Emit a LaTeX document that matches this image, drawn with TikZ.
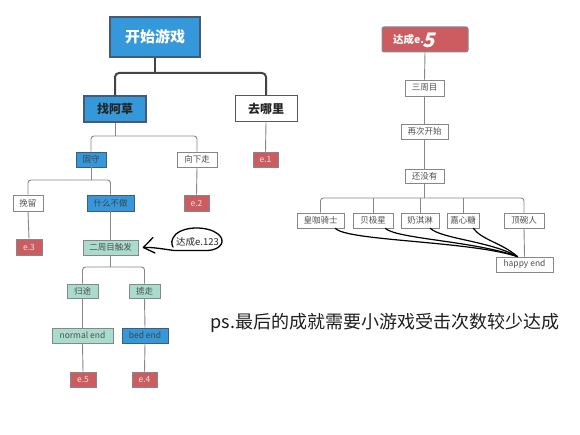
\documentclass[tikz,border=0pt]{standalone}
\usepackage{fontspec}
\setmainfont{Noto Sans CJK SC}
\usetikzlibrary{calc}
\definecolor{cblue}{RGB}{52,152,219}
\definecolor{cred}{RGB}{205,92,97}
\definecolor{cmint}{RGB}{170,220,206}
\definecolor{cline}{RGB}{135,135,135}
\definecolor{ctext}{RGB}{80,80,80}
\definecolor{cdark}{RGB}{68,68,68}
\definecolor{cbord}{RGB}{70,90,118}
\begin{document}
\begin{tikzpicture}[x=1pt,y=-1pt,
  box/.style={draw=cline,line width=0.8pt,inner sep=0pt,text=ctext,font=\fontsize{8.5}{9}\selectfont},
  wbox/.style={box,fill=white},
  bbox/.style={box,fill=cblue,draw=cbord,text=cdark},
  rbox/.style={box,fill=cred,draw=cline,text=white!90!black},
  mbox/.style={box,fill=cmint,draw=cline,text=ctext},
  conn/.style={draw=cline,line width=0.9pt,rounded corners=3pt},
  thick conn/.style={draw=cdark,line width=2pt,rounded corners=4pt},
  hand/.style={draw=black,line width=1.3pt,line cap=round,line join=round}]
\useasboundingbox[fill=white] (0,0) rectangle (580,435);

% ---- left tree ----
\node[box,fill=cblue,draw=cbord,line width=1.5pt,text=white,font=\fontsize{15}{15}\bfseries,minimum width=90pt,minimum height=40pt] (start) at (155,37) {开始游戏};
\node[box,fill=cblue,draw=cbord,line width=1.3pt,text=black!85,font=\fontsize{12}{12}\bfseries,minimum width=62pt,minimum height=26pt] (zhao) at (115,109) {找阿草};
\node[box,fill=white,draw=black!65,line width=1pt,text=black!85,font=\fontsize{12}{12}\bfseries,minimum width=62pt,minimum height=26pt] (qu) at (266,109) {去哪里};

\node[bbox,minimum width=30pt,minimum height=15pt] (gushou) at (91,159.5) {固守};
\node[wbox,minimum width=40pt,minimum height=15pt] (xiang) at (197,159.5) {向下走};
\node[rbox,minimum width=25pt,minimum height=15pt] (e1) at (265.5,159.5) {e.1};

\node[wbox,minimum width=30pt,minimum height=16pt] (wanliu) at (28,203) {挽留};
\node[bbox,minimum width=47pt,minimum height=16pt] (shenme) at (110.5,203) {什么不做};
\node[rbox,minimum width=25pt,minimum height=16pt] (e2) at (196.5,203) {e.2};

\node[rbox,minimum width=26pt,minimum height=16pt] (e3) at (29,247) {e.3};
\node[mbox,minimum width=55pt,minimum height=15pt] (erzhou) at (110.5,247.5) {二周目触发};

\node[mbox,minimum width=31pt,minimum height=14pt] (guitu) at (82.5,291) {归途};
\node[mbox,minimum width=31pt,minimum height=14pt] (luzou) at (144.5,291) {掳走};
\node[mbox,minimum width=61pt,minimum height=15pt] (normal) at (82.5,335.5) {normal end};
\node[bbox,minimum width=46pt,minimum height=15pt] (bed) at (145,335.5) {bed end};
\node[rbox,minimum width=26pt,minimum height=15pt] (e5) at (83,379.5) {e.5};
\node[rbox,minimum width=25pt,minimum height=15pt] (e4) at (144.5,379.5) {e.4};

\coordinate (b0) at (155,73);
\draw[thick conn] (start.south) -- (b0);
\draw[thick conn] (zhao.north) |- (b0) -| (qu.north);
\coordinate (b1) at (115,136);
\draw[conn] (zhao.south) -- (b1);
\draw[conn] (gushou.north) |- (b1) -| (xiang.north);
\draw[conn] (qu.south) -- (e1.north);
\draw[conn] (xiang.south) -- (e2.north);
\coordinate (b2) at (91,180);
\draw[conn] (gushou.south) -- (b2);
\draw[conn] (wanliu.north) |- (b2) -| (shenme.north);
\draw[conn] (wanliu.south) -- (e3.north);
\draw[conn] (shenme.south) -- (erzhou.north);
\coordinate (b3) at (110.5,267);
\draw[conn] (erzhou.south) -- (b3);
\draw[conn] (guitu.north) |- (b3) -| (luzou.north);
\draw[conn] (guitu.south) -- (normal.north);
\draw[conn] (normal.south) -- (e5.north);
\draw[conn] (luzou.south) -- (bed.north);
\draw[conn] (bed.south) -- (e4.north);

% hand-drawn note
\node[inner sep=0pt,text=black!85,font=\fontsize{9.5}{10}\selectfont] (note) at (197.5,242) {达成e.123};
\coordinate (tip) at ([xshift=5pt]erzhou.east);
\draw[hand] (tip) .. controls (152,247) and (163,249) .. (174,250.5) -- (207,250.5)
  .. controls (222,250) and (226,240) .. (218,234) .. controls (208,226) and (185,226) .. (176,234)
  .. controls (171,239) and (171,244) .. (173,247);
\draw[hand] (153,237.5) -- (tip) -- (155,253);

% ---- right tree ----
\node[box,fill=cred,draw=cbord!70,line width=1pt,rounded corners=2pt,minimum width=86pt,minimum height=25pt] (dacheng) at (425,39.5) {};
\node[inner sep=0pt,anchor=west,text=white,font=\fontsize{10.5}{11}\bfseries] (dctext) at (393,40) {达成e.};
\node[inner sep=0pt,anchor=west,text=white,xslant=0.25,font=\fontsize{20}{20}\bfseries] (dcfive) at (dctext.east) {5};

\node[wbox,minimum width=39pt,minimum height=16pt] (sanzhou) at (424.5,88) {三周目};
\node[wbox,minimum width=47pt,minimum height=15pt] (zaici) at (424.5,131.5) {再次开始};
\node[wbox,minimum width=39pt,minimum height=14pt] (haimei) at (424.5,176) {还没有};

\node[wbox,minimum width=47pt,minimum height=15pt] (k1) at (320.5,220.5) {皇咖骑士};
\node[wbox,minimum width=40pt,minimum height=15pt] (k2) at (373,220.5) {贝极星};
\node[wbox,minimum width=38pt,minimum height=15pt] (k3) at (420,220.5) {奶淇淋};
\node[wbox,minimum width=32pt,minimum height=15pt] (k4) at (463,220.5) {嘉心糖};
\node[wbox,minimum width=40pt,minimum height=15pt] (k5) at (524,220.5) {顶碗人};
\node[wbox,minimum width=57pt,minimum height=15pt] (happy) at (524.5,264.5) {happy end};

\draw[conn] (dacheng.south) -- (sanzhou.north);
\draw[conn] (sanzhou.south) -- (zaici.north);
\draw[conn] (zaici.south) -- (haimei.north);
\coordinate (b4) at (424.5,198);
\draw[conn] (haimei.south) -- (b4);
\draw[conn] (k1.north) |- (b4) -| (k5.north);
\draw[conn] (k2.north) -- (k2.north |- b4);
\draw[conn] (k3.north) -- (k3.north |- b4);
\draw[conn] (k4.north) -- (k4.north |- b4);
\draw[conn] (k5.south) -- (happy.north);

\coordinate (hend) at ([xshift=-7pt]happy.north);
\draw[hand,line width=1.2pt] ([xshift=-9pt]k1.south east) .. controls (347,241) and (470,241) .. (hend);
\draw[hand,line width=1.2pt] ([xshift=-8pt]k2.south east) .. controls (397,239) and (475,241) .. (hend);
\draw[hand,line width=1.2pt] ([xshift=-9pt]k3.south east) .. controls (442,239) and (490,241) .. (hend);
\draw[hand,line width=1.2pt] ([xshift=-6pt]k4.south east) .. controls (482,240) and (502,243) .. (hend);

% ---- note ----
\node[inner sep=0pt,text=black!88,font=\fontsize{18}{18}\selectfont] (ps) at (385,323) {ps.最后的成就需要小游戏受击次数较少达成};
\end{tikzpicture}
\end{document}
